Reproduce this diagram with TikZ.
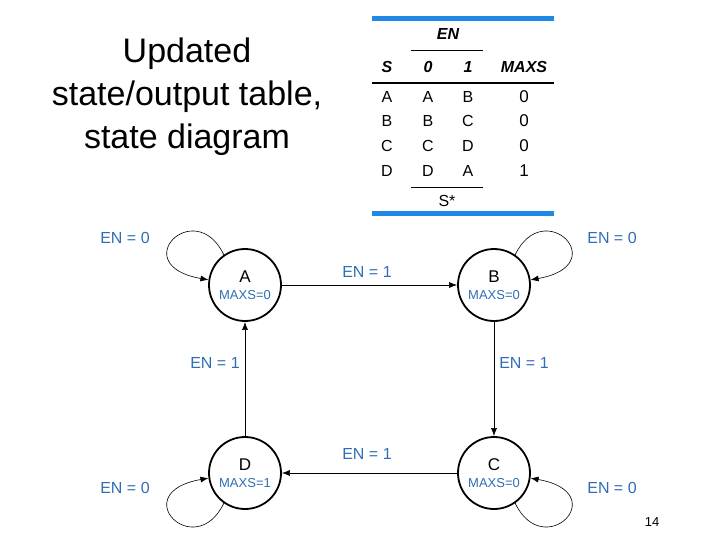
\documentclass[tikz,border=0pt]{standalone}
\usepackage{fontspec}
\setmainfont{Liberation Sans}
\usetikzlibrary{arrows.meta}
\definecolor{lblue}{HTML}{2F6EB5}
\definecolor{barblue}{HTML}{1E88E5}
\begin{document}
\begin{tikzpicture}[x=1pt,y=-1pt,
  st/.style={circle,draw,line width=1.8pt,minimum size=72pt,inner sep=0pt,align=center,font=\fontsize{17}{18}\selectfont},
  lbl/.style={text=lblue,font=\fontsize{16}{17}\selectfont},
  tr/.style={-{Latex[length=8pt,width=6pt]},line width=0.6pt},
  tb/.style={font=\fontsize{16}{17}\selectfont},
  th/.style={font=\fontsize{16}{17}\selectfont\bfseries\itshape}]
\useasboundingbox (0,0) rectangle (720,540);
\node[align=center,font=\fontsize{34}{43}\selectfont] (title) at (187,97) {Updated\\state/output table,\\state diagram};
% table
\draw[barblue,line width=5pt] (372,19) -- (554,19);
\draw[barblue,line width=5pt] (372,214) -- (554,214);
\node[th] (en) at (448,34) {EN};
\draw[line width=0.8pt] (411,50) -- (483,50);
\node[th] (hs) at (387,67) {S};
\node[th] (h0) at (428,67) {0};
\node[th] (h1) at (468,67) {1};
\node[th] (hm) at (524,67) {MAXS};
\draw[line width=2.5pt] (372,83) -- (554,83);
\foreach \s/\a/\b/\m/\y in {A/A/B/0/97,B/B/C/0/121,C/C/D/0/146,D/D/A/1/171}{
  \node[tb] (r\s) at (387,\y) {\s};
  \node[tb] (r\s0) at (428,\y) {\a};
  \node[tb] (r\s1) at (468,\y) {\b};
  \node[tb,font=\fontsize{17}{18}\selectfont\rmfamily] (r\s m) at (524,\y) {\m};
}
\draw[line width=0.8pt] (411,187) -- (483,187);
\node[tb] (ss) at (447,201) {S*};
% states
\node[st] (A) at (245,285) {A\\[-1pt]{\color{lblue}\fontsize{13}{14}\selectfont MAXS=0}};
\node[st] (B) at (494,285) {B\\[-1pt]{\color{lblue}\fontsize{13}{14}\selectfont MAXS=0}};
\node[st] (D) at (245,473) {D\\[-1pt]{\color{lblue}\fontsize{13}{14}\selectfont MAXS=1}};
\node[st] (C) at (494,473) {C\\[-1pt]{\color{lblue}\fontsize{13}{14}\selectfont MAXS=0}};
\draw[tr] (A) -- (B);
\draw[tr] (B) -- (C);
\draw[tr] (C) -- (D);
\draw[tr] (D) -- (A);
\node[lbl] (l1) at (367,272) {EN = 1};
\node[lbl] (l2) at (524,363) {EN = 1};
\node[lbl] (l3) at (367,454) {EN = 1};
\node[lbl] (l4) at (215,363) {EN = 1};
\draw[tr] (A.125) .. controls (195,195) and (125,265) .. (A.172);
\draw[tr] (B.55) .. controls (544,195) and (614,265) .. (B.8);
\draw[tr] (D.235) .. controls (195,563) and (125,493) .. (D.188);
\draw[tr] (C.305) .. controls (544,563) and (614,493) .. (C.352);
\node[lbl] (e1) at (125,238) {EN = 0};
\node[lbl] (e2) at (612,238) {EN = 0};
\node[lbl] (e3) at (125,488) {EN = 0};
\node[lbl] (e4) at (612,488) {EN = 0};
\node[font=\fontsize{13}{14}\selectfont] (pg) at (652,522) {14};
\end{tikzpicture}
\end{document}
